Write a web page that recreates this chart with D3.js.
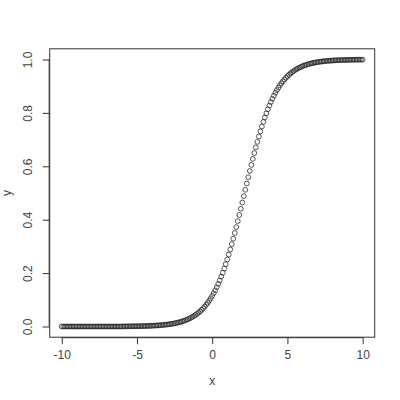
<!DOCTYPE html>
<html>
<head>
<meta charset="utf-8">
<script src="https://cdn.jsdelivr.net/npm/d3@7"></script>
<style>
html,body{margin:0;padding:0;background:#fff;}
svg{display:block;}
text{font-family:"Liberation Sans",Arial,sans-serif;font-size:12px;fill:#444;}
</style>
</head>
<body>
<svg id="chart" width="400" height="400"></svg>
<script>
// x values (step 0.1 from -10 to 10)
const xValues = [
-10.0,-9.9,-9.8,-9.7,-9.6,-9.5,-9.4,-9.3,-9.2,-9.1,
-9.0,-8.9,-8.8,-8.7,-8.6,-8.5,-8.4,-8.3,-8.2,-8.1,
-8.0,-7.9,-7.8,-7.7,-7.6,-7.5,-7.4,-7.3,-7.2,-7.1,
-7.0,-6.9,-6.8,-6.7,-6.6,-6.5,-6.4,-6.3,-6.2,-6.1,
-6.0,-5.9,-5.8,-5.7,-5.6,-5.5,-5.4,-5.3,-5.2,-5.1,
-5.0,-4.9,-4.8,-4.7,-4.6,-4.5,-4.4,-4.3,-4.2,-4.1,
-4.0,-3.9,-3.8,-3.7,-3.6,-3.5,-3.4,-3.3,-3.2,-3.1,
-3.0,-2.9,-2.8,-2.7,-2.6,-2.5,-2.4,-2.3,-2.2,-2.1,
-2.0,-1.9,-1.8,-1.7,-1.6,-1.5,-1.4,-1.3,-1.2,-1.1,
-1.0,-0.9,-0.8,-0.7,-0.6,-0.5,-0.4,-0.3,-0.2,-0.1,
0.0,0.1,0.2,0.3,0.4,0.5,0.6,0.7,0.8,0.9,
1.0,1.1,1.2,1.3,1.4,1.5,1.6,1.7,1.8,1.9,
2.0,2.1,2.2,2.3,2.4,2.5,2.6,2.7,2.8,2.9,
3.0,3.1,3.2,3.3,3.4,3.5,3.6,3.7,3.8,3.9,
4.0,4.1,4.2,4.3,4.4,4.5,4.6,4.7,4.8,4.9,
5.0,5.1,5.2,5.3,5.4,5.5,5.6,5.7,5.8,5.9,
6.0,6.1,6.2,6.3,6.4,6.5,6.6,6.7,6.8,6.9,
7.0,7.1,7.2,7.3,7.4,7.5,7.6,7.7,7.8,7.9,
8.0,8.1,8.2,8.3,8.4,8.5,8.6,8.7,8.8,8.9,
9.0,9.1,9.2,9.3,9.4,9.5,9.6,9.7,9.8,9.9,
10.0
];
// y values
const yValues = [
0,0,0,0,0,0,0,0,0,0,
0,0,0,0,0,0,0,0,0,0,
0,0,0,0,0,0,0,0,0,0,
0,0,0,0,0,0,0,0,0,0,
0,0.0005,0.0005,0.0006,0.0006,0.0007,0.0008,0.0008,0.0009,0.0010,
0.0011,0.0012,0.0014,0.0015,0.0016,0.0018,0.0020,0.0022,0.0024,0.0026,
0.0029,0.0032,0.0035,0.0039,0.0042,0.0047,0.0051,0.0056,0.0062,0.0068,
0.0074,0.0082,0.0090,0.0099,0.0109,0.0119,0.0131,0.0144,0.0158,0.0173,
0.0190,0.0209,0.0229,0.0251,0.0276,0.0303,0.0332,0.0364,0.0398,0.0436,
0.0478,0.0523,0.0572,0.0625,0.0683,0.0746,0.0815,0.0889,0.0969,0.1055,
0.1148,0.1248,0.1356,0.1471,0.1594,0.1726,0.1866,0.2014,0.2171,0.2337,
0.2511,0.2694,0.2885,0.3084,0.3290,0.3503,0.3723,0.3947,0.4176,0.4409,
0.4644,0.4881,0.5119,0.5356,0.5591,0.5824,0.6053,0.6277,0.6497,0.6710,
0.6916,0.7115,0.7306,0.7489,0.7663,0.7829,0.7986,0.8134,0.8274,0.8406,
0.8529,0.8644,0.8752,0.8852,0.8945,0.9031,0.9111,0.9185,0.9254,0.9317,
0.9375,0.9428,0.9477,0.9522,0.9564,0.9602,0.9636,0.9668,0.9697,0.9724,
0.9749,0.9771,0.9791,0.9810,0.9827,0.9842,0.9856,0.9869,0.9881,0.9891,
0.9901,0.9910,0.9918,0.9926,0.9932,0.9938,0.9944,0.9949,0.9953,0.9958,
0.9961,0.9965,0.9968,0.9971,0.9974,0.9976,0.9978,0.9980,0.9982,0.9984,
0.9985,0.9986,0.9988,0.9989,0.9990,0.9991,0.9992,0.9992,0.9993,0.9994,
0.9994
];
const xTicks = [-10, -5, 0, 5, 10];
const xTickLabels = ["-10", "-5", "0", "5", "10"];
const yTicks = [0.0, 0.2, 0.4, 0.6, 0.8, 1.0];
const yTickLabels = ["0.0", "0.2", "0.4", "0.6", "0.8", "1.0"];
const xLabel = "x";
const yLabel = "y";

const svg = d3.select("#chart");
const boxLeft = 49.7, boxRight = 374.7, boxTop = 48.8, boxBottom = 337.2;

const x = d3.scaleLinear().domain([-10.8, 10.8]).range([boxLeft, boxRight]);
const y = d3.scaleLinear().domain([-0.04, 1.04]).range([boxBottom, boxTop]);

// plot box
svg.append("rect")
  .attr("x", boxLeft).attr("y", boxTop)
  .attr("width", boxRight - boxLeft).attr("height", boxBottom - boxTop)
  .attr("fill", "none").attr("stroke", "#333").attr("stroke-width", 1);

// x axis
const xAxis = d3.axisBottom(x).tickValues(xTicks).tickSize(7).tickPadding(6)
  .tickFormat((d, i) => xTickLabels[i]);
const gx = svg.append("g").attr("transform", `translate(0,${boxBottom})`).call(xAxis);
gx.select(".domain").attr("d", `M${x(-10)},0.5H${x(10)}`).attr("stroke", "#333");
gx.selectAll(".tick line").attr("stroke", "#333");
gx.selectAll(".tick text").attr("font-size", 12).attr("fill", "#444")
  .attr("font-family", "Liberation Sans, Arial, sans-serif");

// y axis
const yAxis = d3.axisLeft(y).tickValues(yTicks).tickSize(7).tickPadding(6)
  .tickFormat((d, i) => yTickLabels[i]);
const gy = svg.append("g").attr("transform", `translate(${boxLeft},0)`).call(yAxis);
gy.select(".domain").attr("d", `M-0.5,${y(0)}V${y(1)}`).attr("stroke", "#333");
gy.selectAll(".tick line").attr("stroke", "#333");
gy.selectAll(".tick text")
  .attr("font-size", 12).attr("fill", "#444")
  .attr("font-family", "Liberation Sans, Arial, sans-serif")
  .attr("x", null).attr("dy", null)
  .attr("text-anchor", "middle")
  .attr("transform", "translate(-18,0) rotate(-90)");

// axis titles
svg.append("text").attr("x", (boxLeft + boxRight) / 2).attr("y", 385)
  .attr("text-anchor", "middle").text(xLabel);
svg.append("text")
  .attr("transform", `translate(11,${(boxTop + boxBottom) / 2}) rotate(-90)`)
  .attr("text-anchor", "middle").text(yLabel);

// points
svg.append("g").selectAll("circle")
  .data(xValues.map((v, i) => [v, yValues[i]]))
  .join("circle")
  .attr("cx", d => x(d[0]))
  .attr("cy", d => y(d[1]))
  .attr("r", 2.4)
  .attr("fill", "none")
  .attr("stroke", "#222")
  .attr("stroke-width", 0.75);
</script>
</body>
</html>
